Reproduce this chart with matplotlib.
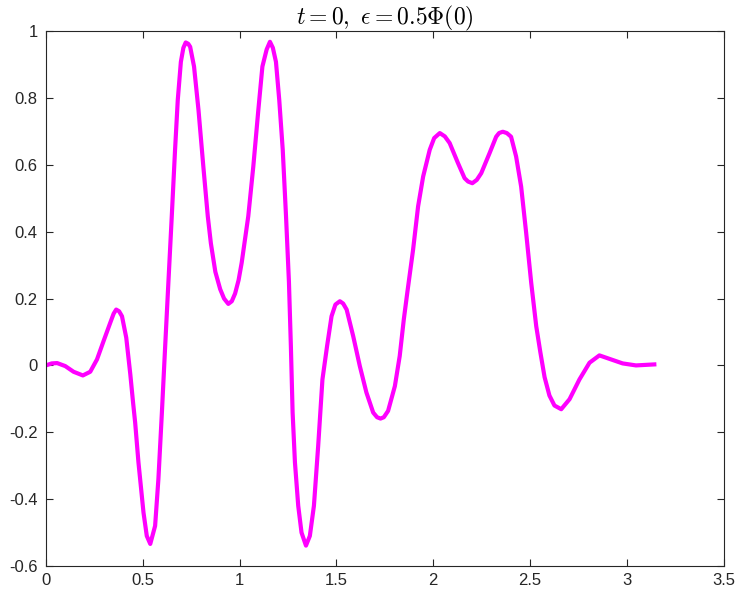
import numpy as np
from matplotlib import pyplot as plt

# curve samples
x = [0.000, 0.030, 0.058, 0.100, 0.143, 0.191, 0.229, 0.264, 0.298, 0.332,
     0.350, 0.363, 0.378, 0.393, 0.415, 0.436, 0.450, 0.461, 0.478, 0.504,
     0.521, 0.539, 0.564, 0.581, 0.599, 0.616, 0.631, 0.650, 0.667, 0.681,
     0.697, 0.710, 0.722, 0.735, 0.745, 0.765, 0.788, 0.813, 0.836, 0.852,
     0.875, 0.900, 0.920, 0.942, 0.960, 0.977, 0.995, 1.011, 1.045, 1.071,
     1.097, 1.118, 1.140, 1.157, 1.172, 1.188, 1.205, 1.223, 1.240, 1.255,
     1.265, 1.274, 1.286, 1.303, 1.320, 1.343, 1.363, 1.384, 1.406, 1.428,
     1.452, 1.475, 1.495, 1.518, 1.535, 1.553, 1.587, 1.621, 1.655, 1.690,
     1.710, 1.728, 1.745, 1.767, 1.802, 1.827, 1.848, 1.866, 1.896, 1.922,
     1.948, 1.982, 2.005, 2.034, 2.060, 2.085, 2.128, 2.162, 2.180, 2.202,
     2.225, 2.248, 2.291, 2.325, 2.340, 2.359, 2.380, 2.402, 2.428, 2.454,
     2.480, 2.506, 2.532, 2.553, 2.575, 2.600, 2.626, 2.661, 2.704, 2.755,
     2.807, 2.858, 2.918, 2.978, 3.047, 3.1416]
y = [0.000, 0.006, 0.007, -0.002, -0.019, -0.030, -0.019, 0.018, 0.073, 0.127,
     0.155, 0.167, 0.162, 0.147, 0.083, -0.027, -0.110, -0.171, -0.290, -0.440,
     -0.510, -0.534, -0.480, -0.340, -0.141, 0.058, 0.230, 0.446, 0.645, 0.794,
     0.908, 0.950, 0.966, 0.962, 0.953, 0.894, 0.764, 0.595, 0.446, 0.365,
     0.280, 0.228, 0.200, 0.184, 0.192, 0.215, 0.255, 0.307, 0.446, 0.595,
     0.764, 0.894, 0.945, 0.968, 0.950, 0.908, 0.794, 0.645, 0.446, 0.250,
     0.058, -0.141, -0.290, -0.420, -0.500, -0.539, -0.510, -0.420, -0.241, -0.042,
     0.058, 0.147, 0.182, 0.192, 0.185, 0.167, 0.087, -0.002, -0.081, -0.141,
     -0.155, -0.159, -0.155, -0.136, -0.062, 0.028, 0.137, 0.217, 0.346, 0.476,
     0.565, 0.645, 0.680, 0.695, 0.685, 0.665, 0.605, 0.560, 0.550, 0.545,
     0.555, 0.575, 0.635, 0.684, 0.695, 0.699, 0.695, 0.684, 0.625, 0.535,
     0.396, 0.247, 0.117, 0.040, -0.035, -0.090, -0.120, -0.131, -0.101, -0.042,
     0.008, 0.030, 0.018, 0.006, 0.000, 0.003]

xticks = [0, 0.5, 1, 1.5, 2, 2.5, 3, 3.5]
xticklabels = ["0", "0.5", "1", "1.5", "2", "2.5", "3", "3.5"]
yticks = [-0.6, -0.4, -0.2, 0, 0.2, 0.4, 0.6, 0.8, 1]
yticklabels = ["-0.6", "-0.4", "-0.2", "0", "0.2", "0.4", "0.6", "0.8", "1"]

plt.rcParams['font.family'] = ['Liberation Sans', 'DejaVu Sans']
plt.rcParams['mathtext.fontset'] = 'cm'

fig = plt.figure(figsize=(7.4, 5.98), dpi=100)
ax = fig.add_axes([0.062, 0.0535, 0.916, 0.8945])

ax.plot(x, y, color="#ff00ff", lw=3, solid_joinstyle="round")

ax.set_xlim(0, 3.5)
ax.set_ylim(-0.6, 1)
ax.set_xticks(xticks)
ax.set_xticklabels(xticklabels)
ax.set_yticks(yticks)
ax.set_yticklabels(yticklabels)

for s in ax.spines.values():
    s.set_color("#262626")
    s.set_linewidth(0.8)
ax.tick_params(direction="in", length=5, width=0.8, color="#262626",
               labelcolor="#262626", labelsize=12, top=True, right=True)
ax.tick_params(axis="x", pad=5)
ax.tick_params(axis="y", pad=6)

ax.set_title(r"$t = 0,\ \epsilon = 0.5\Phi(0)$", fontsize=17, color="#000000", pad=5)

fig.savefig("out.png", dpi=100)
